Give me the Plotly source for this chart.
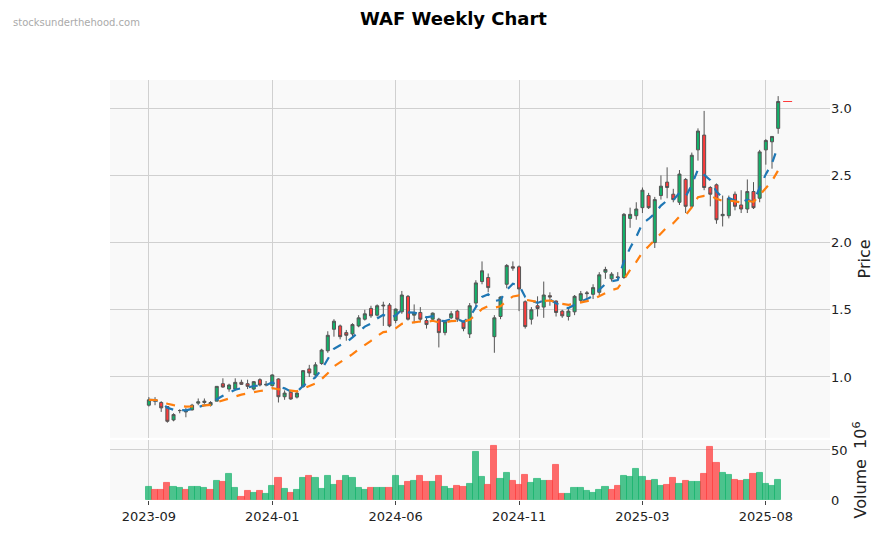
import plotly.graph_objects as go
import pandas as pd

# weekly OHLC (price) and volume (millions)
opens = [0.79, 0.83, 0.81, 0.78, 0.68, 0.75, 0.74, 0.755, 0.805, 0.81,
         0.79, 0.82, 0.95, 0.91, 0.91, 0.96, 0.95, 0.91, 0.98, 0.94,
         0.935, 0.985, 0.853, 0.886, 0.85, 0.928, 1.06, 1.015, 1.10, 1.195,
         1.355, 1.38, 1.33, 1.32, 1.38, 1.43, 1.51, 1.46, 1.535, 1.535,
         1.42, 1.485, 1.60, 1.46, 1.48, 1.42, 1.43, 1.43, 1.33, 1.44,
         1.49, 1.41, 1.32, 1.55, 1.71, 1.74, 1.30, 1.45, 1.69, 1.82,
         1.82, 1.56, 1.43, 1.53, 1.52, 1.605, 1.565, 1.49, 1.45, 1.485,
         1.57, 1.62, 1.615, 1.63, 1.78, 1.73, 1.745, 1.74, 2.18, 2.20,
         2.26, 2.35, 2.00, 2.35, 2.45, 2.36, 2.30, 2.47, 2.27, 2.69,
         2.80, 2.41, 2.43, 2.20, 2.20, 2.36, 2.28, 2.25, 2.38, 2.33,
         2.69, 2.75, 2.85]
closes = [0.83, 0.82, 0.77, 0.67, 0.72, 0.75, 0.745, 0.79, 0.815, 0.82,
          0.81, 0.93, 0.925, 0.94, 0.96, 0.945, 0.93, 0.965, 0.94, 0.945,
          1.015, 0.853, 0.88, 0.836, 0.88, 1.047, 1.03, 1.09, 1.20, 1.31,
          1.415, 1.30, 1.31, 1.39, 1.44, 1.47, 1.455, 1.53, 1.53, 1.38,
          1.505, 1.61, 1.43, 1.475, 1.43, 1.39, 1.475, 1.33, 1.41, 1.47,
          1.43, 1.36, 1.53, 1.70, 1.79, 1.665, 1.44, 1.595, 1.83, 1.81,
          1.655, 1.375, 1.50, 1.51, 1.61, 1.595, 1.48, 1.455, 1.49, 1.60,
          1.62, 1.625, 1.665, 1.76, 1.80, 1.765, 1.74, 2.21, 2.21, 2.25,
          2.39, 2.26, 2.32, 2.42, 2.41, 2.32, 2.51, 2.27, 2.65, 2.83,
          2.41, 2.36, 2.17, 2.21, 2.33, 2.27, 2.25, 2.38, 2.26, 2.675,
          2.76, 2.79, 3.05]
highs = [0.85, 0.85, 0.82, 0.78, 0.73, 0.76, 0.77, 0.80, 0.84, 0.84,
         0.82, 0.93, 0.99, 0.95, 0.99, 0.98, 0.98, 0.97, 0.99, 0.97,
         1.02, 0.99, 0.90, 0.89, 0.90, 1.05, 1.09, 1.11, 1.21, 1.34,
         1.43, 1.39, 1.35, 1.40, 1.46, 1.50, 1.53, 1.54, 1.56, 1.55,
         1.51, 1.64, 1.61, 1.54, 1.52, 1.45, 1.48, 1.44, 1.42, 1.49,
         1.50, 1.42, 1.55, 1.72, 1.86, 1.77, 1.46, 1.60, 1.84, 1.86,
         1.83, 1.57, 1.52, 1.60, 1.71, 1.63, 1.57, 1.50, 1.51, 1.61,
         1.64, 1.64, 1.69, 1.78, 1.82, 1.78, 1.78, 2.22, 2.26, 2.30,
         2.41, 2.37, 2.34, 2.50, 2.56, 2.40, 2.54, 2.48, 2.67, 2.85,
         2.98, 2.42, 2.44, 2.35, 2.35, 2.38, 2.39, 2.47, 2.45, 2.69,
         2.77, 2.79, 3.09]
lows = [0.78, 0.79, 0.74, 0.66, 0.67, 0.73, 0.70, 0.75, 0.79, 0.80,
        0.78, 0.82, 0.92, 0.89, 0.90, 0.94, 0.91, 0.90, 0.93, 0.93,
        0.93, 0.81, 0.83, 0.83, 0.84, 0.92, 1.00, 0.99, 1.09, 1.18,
        1.30, 1.28, 1.27, 1.30, 1.37, 1.42, 1.44, 1.45, 1.38, 1.37,
        1.40, 1.47, 1.42, 1.40, 1.41, 1.36, 1.41, 1.22, 1.31, 1.43,
        1.41, 1.34, 1.29, 1.52, 1.69, 1.63, 1.18, 1.43, 1.66, 1.79,
        1.49, 1.36, 1.39, 1.45, 1.44, 1.53, 1.45, 1.44, 1.42, 1.46,
        1.55, 1.58, 1.58, 1.61, 1.73, 1.71, 1.73, 1.73, 2.11, 2.17,
        2.22, 2.25, 1.96, 2.32, 2.33, 2.30, 2.28, 2.22, 2.26, 2.61,
        2.39, 2.27, 2.14, 2.12, 2.18, 2.24, 2.22, 2.22, 2.25, 2.30,
        2.58, 2.55, 2.81]
volumes = [13, 10, 10, 17, 13, 12, 10, 13, 13, 12,
           10, 19, 18, 26, 12, 3, 9, 7, 9, 6,
           14, 22, 11, 7, 10, 22, 24, 22, 11, 24,
           15, 19, 24, 22, 12, 10, 12, 12, 12, 12,
           24, 14, 18, 19, 24, 18, 18, 24, 13, 11,
           14, 13, 16, 48, 23, 15, 54, 21, 27, 19,
           15, 25, 17, 21, 19, 19, 35, 6, 6, 12,
           12, 9, 7, 10, 13, 10, 14, 24, 23, 31,
           23, 19, 20, 14, 15, 22, 16, 19, 18, 18,
           26, 53, 37, 27, 25, 20, 19, 20, 26, 27,
           16, 14, 20]
tick_labels = ["2023-09", "2024-01", "2024-06", "2024-11", "2025-03", "2025-08"]

GREEN = "#12b26a"
RED = "#ff3b3b"

x = list(range(len(closes)))
close_s = pd.Series(closes)
ema_fast = close_s.ewm(span=6, adjust=False).mean()
ema_slow = close_s.ewm(span=14, adjust=False).mean()

vol_colors = [GREEN if i == 0 or closes[i] >= closes[i - 1] else RED for i in x]

fig = go.Figure()

fig.add_trace(go.Candlestick(
    x=x, open=opens, high=highs, low=lows, close=closes,
    increasing=dict(line=dict(color="#555555", width=1), fillcolor=GREEN),
    decreasing=dict(line=dict(color="#555555", width=1), fillcolor=RED),
    whiskerwidth=0, showlegend=False, yaxis="y",
))
fig.add_trace(go.Scatter(x=x, y=ema_fast, mode="lines", showlegend=False,
                         line=dict(color="#1f77b4", width=2.2, dash="dash")))
fig.add_trace(go.Scatter(x=x, y=ema_slow, mode="lines", showlegend=False,
                         line=dict(color="#ff7f0e", width=2.2, dash="dash")))
# last price marker
fig.add_trace(go.Scatter(x=[len(x) - 0.2, len(x) + 1.5], y=[closes[-1]] * 2, mode="lines",
                         showlegend=False, line=dict(color=RED, width=1, dash="dash")))

fig.add_trace(go.Bar(x=x, y=volumes, marker=dict(color=vol_colors, opacity=0.75,
                                                 line=dict(color=vol_colors, width=1)),
                     showlegend=False, yaxis="y2"))

fig.update_layout(
    width=891, height=533,
    title=dict(text="<b>WAF Weekly Chart</b>", x=0.5, y=0.98, xanchor="center", yanchor="middle",
               font=dict(family="DejaVu Sans", size=18, color="black")),
    paper_bgcolor="white", plot_bgcolor="#f9f9f9",
    margin=dict(l=102, r=69, t=72, b=41),
    font=dict(family="DejaVu Sans", size=13, color="#222"),
    bargap=0.0,
    xaxis=dict(range=[-6.3, 110.4], tickvals=[0, 20, 40, 60, 80, 100], ticktext=tick_labels,
               showgrid=True, gridcolor="#d0d0d0", ticks="outside", ticklen=4,
               rangeslider=dict(visible=False), zeroline=False, anchor="y2", automargin=False),
    yaxis=dict(domain=[0.148, 1], range=[0.547, 3.21], side="right", tickvals=[1.0, 1.5, 2.0, 2.5, 3.0],
               ticktext=["1.0", "1.5", "2.0", "2.5", "3.0"], gridcolor="#d0d0d0",
               title=dict(text="Price", standoff=8), zeroline=False, automargin=False),
    yaxis2=dict(domain=[0, 0.143], range=[0, 60], side="right", tickvals=[0, 50],
                gridcolor="#d0d0d0", title=dict(text="Volume  10<sup>6</sup>", standoff=8),
                zeroline=False, automargin=False),
    annotations=[dict(text="stocksunderthehood.com", xref="paper", yref="paper",
                      x=-0.1375, y=1.138, xanchor="left", yanchor="middle", showarrow=False,
                      font=dict(size=10, color="#aaaaaa"))],
)

fig.write_html("out.html")
